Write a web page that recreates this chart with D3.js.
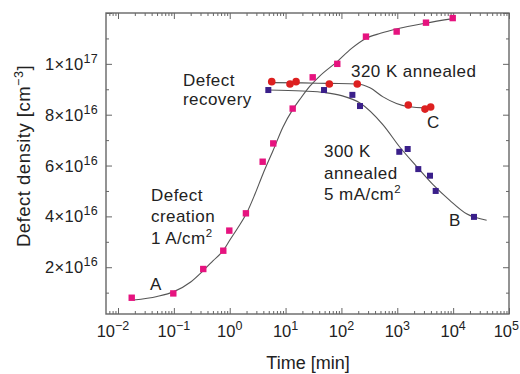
<!DOCTYPE html>
<html><head><meta charset="utf-8">
<script src="https://cdn.jsdelivr.net/npm/d3@7"></script>
<style>
body{margin:0;background:#fff}
text{font-family:"Liberation Sans",Arial,Helvetica,sans-serif;fill:#222}
</style>
</head><body>
<svg id="chart" width="520" height="374"></svg>
<script>
// ---- data (time in minutes, defect density in cm^-3) ----
const creationTime = [0.0176, 0.0977, 0.336, 0.767, 0.983, 1.95, 3.89, 6.02, 13.4, 30.6, 84.3, 275, 975, 3265, 9820];
const creationDensity = [0.80e16, 0.97e16, 1.93e16, 2.65e16, 3.44e16, 4.12e16, 6.15e16, 6.87e16, 8.24e16, 9.47e16, 1.00e17, 1.107e17, 1.127e17, 1.162e17, 1.180e17];

const anneal320Time = [5.65, 12.0, 15.4, 60.7, 192, 1574, 3133, 3962];
const anneal320Density = [9.30e16, 9.21e16, 9.30e16, 9.21e16, 9.21e16, 8.38e16, 8.22e16, 8.30e16];

const anneal300Time = [4.91, 48.8, 157, 215, 1086, 1535, 2376, 3850, 4870, 23600];
const anneal300Density = [8.97e16, 8.97e16, 8.78e16, 8.34e16, 6.54e16, 6.65e16, 5.86e16, 5.60e16, 5.00e16, 3.98e16];

// fitted curves
const fitATime = [0.019, 0.05, 0.1, 0.2, 0.34, 0.5, 0.78, 1.0, 1.4, 2.0, 2.8, 3.9, 6.0, 8.9, 13.4, 18, 27.5, 40, 85, 150, 275, 500, 1000, 3160, 10000];
const fitADensity = [0.71e16, 0.85e16, 1.04e16, 1.42e16, 1.88e16, 2.25e16, 2.68e16, 3.06e16, 3.55e16, 4.12e16, 4.85e16, 5.65e16, 6.6e16, 7.5e16, 8.2e16, 8.6e16, 9.13e16, 9.5e16, 1.01e17, 1.06e17, 1.10e17, 1.12e17, 1.138e17, 1.16e17, 1.178e17];

const fitBTime = [4.9, 20, 50, 100, 215, 556, 1096, 2188, 4365, 8710, 17380, 39800];
const fitBDensity = [8.97e16, 8.93e16, 8.87e16, 8.75e16, 8.46e16, 7.60e16, 6.74e16, 5.98e16, 5.25e16, 4.63e16, 4.1e16, 3.85e16];

const fitCTime = [5.65, 20, 60, 190, 324, 556, 966, 1550, 3090, 3980];
const fitCDensity = [9.26e16, 9.25e16, 9.23e16, 9.21e16, 9.06e16, 8.70e16, 8.44e16, 8.32e16, 8.27e16, 8.27e16];

// tick labels
const xMajorTicks = [0.01, 0.1, 1, 10, 100, 1000, 10000, 100000];
const xTickExponents = ["\u22122", "\u22121", "0", "1", "2", "3", "4", "5"];
const yMajorTicks = [2e16, 4e16, 6e16, 8e16, 1e17, 1.2e17];
const yMinorTicks = [1e16, 3e16, 5e16, 7e16, 9e16, 1.1e17];
const yTickLabels = [["2", "16"], ["4", "16"], ["6", "16"], ["8", "16"], ["1", "17"]];

// ---- layout ----
const L = 106, R = 509, T = 13, B = 314;
const svg = d3.select("#chart");
const x = d3.scaleLog().domain([Math.pow(10, -2.215), 1e5]).range([L, R]);
const y = d3.scaleLinear().domain([0.16e16, 1.2e17]).range([B, T]);

const axisColor = "#666";
const allXTicks = x.ticks().filter(v => v >= x.domain()[0] && v <= 1e5);
const xMinor = allXTicks.filter(v => !xMajorTicks.some(m => Math.abs(m - v) / m < 1e-9));

function styleAxis(g) {
  g.select(".domain").remove();
  g.selectAll(".tick line").attr("stroke", axisColor).attr("stroke-width", 1);
  g.selectAll(".tick text").remove();
}
// bottom & top
svg.append("g").attr("transform", `translate(0,${B})`)
  .call(d3.axisBottom(x).tickValues(xMajorTicks).tickSize(-6).tickFormat("")).call(styleAxis);
svg.append("g").attr("transform", `translate(0,${B})`)
  .call(d3.axisBottom(x).tickValues(xMinor).tickSize(-3).tickFormat("")).call(styleAxis);
svg.append("g").attr("transform", `translate(0,${T})`)
  .call(d3.axisTop(x).tickValues(xMajorTicks).tickSize(-6).tickFormat("")).call(styleAxis);
svg.append("g").attr("transform", `translate(0,${T})`)
  .call(d3.axisTop(x).tickValues(xMinor).tickSize(-3).tickFormat("")).call(styleAxis);
// left & right
svg.append("g").attr("transform", `translate(${L},0)`)
  .call(d3.axisLeft(y).tickValues(yMajorTicks).tickSize(-6).tickFormat("")).call(styleAxis);
svg.append("g").attr("transform", `translate(${L},0)`)
  .call(d3.axisLeft(y).tickValues(yMinorTicks).tickSize(-3).tickFormat("")).call(styleAxis);
svg.append("g").attr("transform", `translate(${R},0)`)
  .call(d3.axisRight(y).tickValues(yMajorTicks).tickSize(-6).tickFormat("")).call(styleAxis);
svg.append("g").attr("transform", `translate(${R},0)`)
  .call(d3.axisRight(y).tickValues(yMinorTicks).tickSize(-3).tickFormat("")).call(styleAxis);

// frame
svg.append("rect").attr("x", L).attr("y", T).attr("width", R - L).attr("height", B - T)
  .attr("fill", "none").attr("stroke", axisColor).attr("stroke-width", 1.4);

// x tick labels
xMajorTicks.forEach((v, i) => {
  const last = i === xMajorTicks.length - 1;
  const t = svg.append("text")
    .attr("x", last ? 519 : x(v) + (i === 0 ? -5 : 0)).attr("y", 337)
    .attr("text-anchor", last ? "end" : "middle").attr("font-size", 16.5);
  t.append("tspan").text("10");
  t.append("tspan").attr("font-size", 12.5).attr("dy", -7).text(xTickExponents[i]);
});
// y tick labels
yTickLabels.forEach((lab, i) => {
  const t = svg.append("text").attr("x", 98).attr("y", y(yMajorTicks[i]) + 6)
    .attr("text-anchor", "end").attr("font-size", 16.5).attr("letter-spacing", 0.3);
  t.append("tspan").text(lab[0] + "\u00d710");
  t.append("tspan").attr("font-size", 12.5).attr("dy", -7).text(lab[1]);
});

// axis titles
svg.append("text").attr("x", 308).attr("y", 369).attr("text-anchor", "middle")
  .attr("font-size", 18).text("Time [min]");
const yt = svg.append("text").attr("transform", "translate(30,156) rotate(-90)")
  .attr("text-anchor", "middle").attr("font-size", 18.5).attr("letter-spacing", 0.5);
yt.append("tspan").text("Defect density [cm");
yt.append("tspan").attr("font-size", 12.5).attr("dy", -7).text("\u22123");
yt.append("tspan").attr("dy", 7).text("]");

// fitted curves
const line = d3.line().x(d => x(d[0])).y(d => y(d[1])).curve(d3.curveMonotoneX);
const curves = [
  d3.zip(fitATime, fitADensity),
  d3.zip(fitBTime, fitBDensity),
  d3.zip(fitCTime, fitCDensity)
];
svg.append("g").selectAll("path").data(curves).join("path")
  .attr("d", line).attr("fill", "none").attr("stroke", "#555").attr("stroke-width", 1.1);

// markers
const pink = "#e6137f", red = "#dd2020", navy = "#3a1f8a";
svg.append("g").selectAll("rect").data(d3.zip(creationTime, creationDensity)).join("rect")
  .attr("x", d => x(d[0]) - 3.2).attr("y", d => y(d[1]) - 3.2)
  .attr("width", 6.4).attr("height", 6.4).attr("fill", pink);
svg.append("g").selectAll("rect").data(d3.zip(anneal300Time, anneal300Density)).join("rect")
  .attr("x", d => x(d[0]) - 3).attr("y", d => y(d[1]) - 3)
  .attr("width", 6).attr("height", 6).attr("fill", navy);
svg.append("g").selectAll("circle").data(d3.zip(anneal320Time, anneal320Density)).join("circle")
  .attr("cx", d => x(d[0])).attr("cy", d => y(d[1])).attr("r", 3.8).attr("fill", red);

// annotations
function label(lines, x0, baselines) {
  lines.forEach((ln, i) => {
    const t = svg.append("text").attr("x", x0).attr("y", baselines[i])
      .attr("font-size", 17).attr("letter-spacing", 0.45);
    if (Array.isArray(ln)) {
      t.append("tspan").text(ln[0]);
      t.append("tspan").attr("font-size", 11.5).attr("dy", -7).text(ln[1]);
    } else t.text(ln);
  });
}
label(["Defect", "recovery"], 183, [85.5, 104.5]);
label(["320 K annealed"], 351, [77]);
label(["C"], 427, [128]);
label(["300 K", "annealed", ["5 mA/cm", "2"]], 324, [157, 178.5, 199.5]);
label(["B"], 449, [225.5]);
label(["Defect", "creation", ["1 A/cm", "2"]], 151, [200.7, 222, 243.5]);
label(["A"], 150, [290]);
</script>
</body></html>
